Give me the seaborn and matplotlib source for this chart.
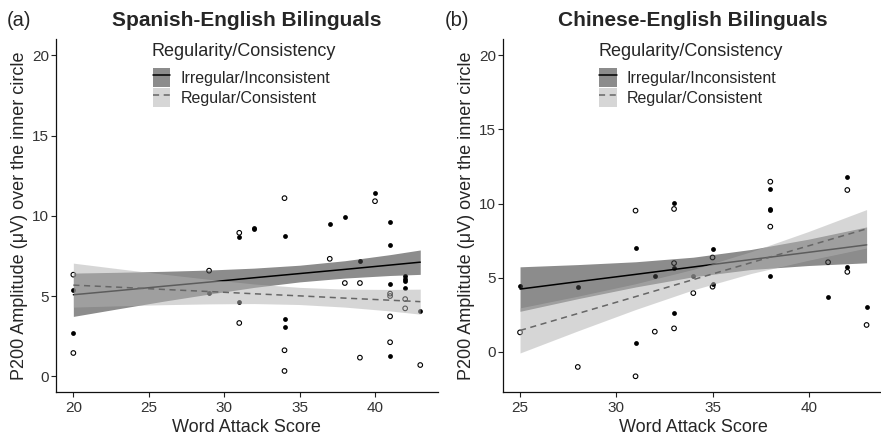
import matplotlib
matplotlib.use("Agg")
import matplotlib.pyplot as plt
import seaborn as sns
from matplotlib.patches import Patch
from matplotlib.lines import Line2D

# ---- Spanish-English bilinguals: individual P200 amplitudes ----
sp_irr_score = [20, 20, 29, 31, 31, 32, 32, 34, 34, 34, 37, 38, 39, 40,
                41, 41, 41, 41, 42, 42, 42, 42, 43]
sp_irr_amp = [5.40, 2.72, 5.18, 8.67, 4.62, 9.23, 9.15, 8.75, 3.59, 3.07,
              9.50, 9.94, 7.20, 11.41, 9.60, 8.15, 5.72, 1.26, 6.24, 6.08,
              5.93, 5.50, 4.09]
sp_reg_score = [20, 20, 29, 31, 31, 34, 34, 34, 37, 38, 39, 39, 40,
                41, 41, 41, 41, 42, 42, 43]
sp_reg_amp = [6.33, 1.45, 6.58, 8.94, 3.32, 11.10, 1.62, 0.33, 7.32, 5.81,
              5.81, 1.16, 10.91, 5.15, 5.00, 3.73, 2.12, 4.81, 4.23, 0.70]

# model estimates with 95% confidence limits
sp_fit_score = [20, 23, 26, 29, 32, 35, 38, 41, 43]
sp_irr_fit = [5.08, 5.34, 5.61, 5.87, 6.14, 6.40, 6.66, 6.93, 7.11]
sp_irr_lo = [3.73, 4.21, 4.68, 5.12, 5.54, 5.88, 6.12, 6.28, 6.35]
sp_irr_hi = [6.43, 6.48, 6.54, 6.62, 6.74, 6.92, 7.20, 7.58, 7.87]
sp_reg_fit = [5.68, 5.55, 5.41, 5.28, 5.14, 5.01, 4.87, 4.74, 4.65]
sp_reg_lo = [4.31, 4.39, 4.46, 4.51, 4.53, 4.47, 4.31, 4.07, 3.87]
sp_reg_hi = [7.05, 6.70, 6.36, 6.04, 5.75, 5.54, 5.43, 5.41, 5.43]

# ---- Chinese-English bilinguals: individual P200 amplitudes ----
ch_irr_score = [25, 28, 31, 31, 32, 33, 33, 33, 34, 35, 35, 38, 38, 38, 38,
                41, 42, 42, 43]
ch_irr_amp = [4.46, 4.35, 7.04, 0.60, 5.13, 10.02, 5.65, 2.62, 5.11, 6.93,
              4.60, 10.97, 9.62, 9.55, 5.13, 3.72, 11.77, 5.76, 3.00]
ch_reg_score = [25, 28, 31, 31, 32, 33, 33, 33, 34, 35, 35, 38, 38, 41, 42,
                42, 43]
ch_reg_amp = [1.32, -1.01, 9.53, -1.64, 1.37, 9.64, 5.99, 1.59, 3.97, 6.37,
              4.40, 11.48, 8.45, 6.05, 10.92, 5.40, 1.82]

ch_fit_score = [25, 28, 31, 34, 37, 40, 43]
ch_irr_fit = [4.24, 4.74, 5.23, 5.73, 6.23, 6.72, 7.22]
ch_irr_lo = [2.74, 3.59, 4.38, 5.07, 5.56, 5.83, 6.01]
ch_irr_hi = [5.74, 5.89, 6.08, 6.39, 6.91, 7.61, 8.43]
ch_reg_fit = [1.45, 2.59, 3.73, 4.88, 6.02, 7.16, 8.30]
ch_reg_lo = [-0.07, 1.42, 2.86, 4.19, 5.29, 6.19, 7.01]
ch_reg_hi = [2.97, 3.76, 4.60, 5.57, 6.76, 8.13, 9.60]

conditions = ["Irregular/Inconsistent", "Regular/Consistent"]
legend_title = "Regularity/Consistency"
panel_titles = ["Spanish-English Bilinguals", "Chinese-English Bilinguals"]
panel_tags = ["(a)", "(b)"]
x_label = "Word Attack Score"
y_label = "P200 Amplitude (\u03bcV) over the inner circle"
x_ticks = [[20, 25, 30, 35, 40], [25, 30, 35, 40]]
y_ticks = [0, 5, 10, 15, 20]

# ---- styling ----
sns.set_style("ticks")
plt.rcParams["font.family"] = ["Liberation Sans", "DejaVu Sans"]

IRR_FILL, IRR_ALPHA = "#3f3f3f", 0.6
REG_FILL, REG_ALPHA = "#b2b2b2", 0.52
REG_LINE = "#666666"
DASH = (4, 3)

fig = plt.figure(figsize=(8.81, 4.40), dpi=100)
ax_sp = fig.add_axes([56 / 881, 0.1084, 381.6 / 881, 0.8023])
ax_ch = fig.add_axes([502.7 / 881, 0.1084, 381.2 / 881, 0.8023])

panels = [
    (ax_sp, sp_irr_score, sp_irr_amp, sp_reg_score, sp_reg_amp,
     sp_fit_score, sp_irr_fit, sp_irr_lo, sp_irr_hi,
     sp_reg_fit, sp_reg_lo, sp_reg_hi, (18.85, 44.15), (-1.0, 21.0)),
    (ax_ch, ch_irr_score, ch_irr_amp, ch_reg_score, ch_reg_amp,
     ch_fit_score, ch_irr_fit, ch_irr_lo, ch_irr_hi,
     ch_reg_fit, ch_reg_lo, ch_reg_hi, (24.1, 43.9), (-2.72, 21.08)),
]

for i, (ax, irr_x, irr_y, reg_x, reg_y, fx, ifit, ilo, ihi,
        rfit, rlo, rhi, xlim, ylim) in enumerate(panels):
    # individual participants: open = regular, filled = irregular
    sns.scatterplot(x=reg_x, y=reg_y, ax=ax, marker="o", s=11,
                    facecolor="none", edgecolor="black", linewidth=0.8,
                    zorder=1.0)
    sns.scatterplot(x=irr_x, y=irr_y, ax=ax, marker="o", s=12,
                    color="black", linewidth=0, zorder=1.05)

    # confidence ribbons and fitted lines
    ax.fill_between(fx, ilo, ihi, facecolor=IRR_FILL, alpha=IRR_ALPHA,
                    linewidth=0, zorder=1.5)
    sns.lineplot(x=fx, y=ifit, ax=ax, color="black", linewidth=1.1,
                 errorbar=None, zorder=1.6)
    ax.fill_between(fx, rlo, rhi, facecolor=REG_FILL, alpha=REG_ALPHA,
                    linewidth=0, zorder=1.7)
    sns.lineplot(x=fx, y=rfit, ax=ax, color=REG_LINE, linewidth=1.1,
                 errorbar=None, zorder=1.8)
    ax.lines[-1].set_dashes(DASH)

    ax.set_xlim(*xlim)
    ax.set_ylim(*ylim)
    ax.set_xticks(x_ticks[i])
    ax.set_yticks(y_ticks)
    ax.set_xlabel(x_label, fontsize=13, labelpad=3)
    ax.set_ylabel(y_label, fontsize=13, labelpad=3)
    ax.tick_params(axis="both", labelsize=11, length=3.8, width=0.8,
                   color="#222222", labelcolor="#333333")
    ax.tick_params(axis="x", pad=2.5)
    ax.tick_params(axis="y", pad=1)
    for side in ("left", "bottom"):
        ax.spines[side].set_linewidth(0.9)
        ax.spines[side].set_color("#111111")
    sns.despine(ax=ax)
    ax.set_title(panel_titles[i], fontsize=15, fontweight="bold", pad=9.6)

    # legend: title as its own text, keys stacked beneath it
    ax.text(0.2508, 0.9513, legend_title, transform=ax.transAxes,
            fontsize=13, ha="left", va="baseline")
    handles = [
        (Patch(facecolor=IRR_FILL, alpha=IRR_ALPHA, edgecolor="none"),
         Line2D([], [], color="black", linewidth=1.1)),
        (Patch(facecolor=REG_FILL, alpha=REG_ALPHA, edgecolor="none"),
         Line2D([], [], color=REG_LINE, linewidth=1.1, dashes=DASH)),
    ]
    ax.legend(handles, conditions, loc="upper left",
              bbox_to_anchor=(0.2534, 0.9187), frameon=False, fontsize=11.5,
              handlelength=1.08, handleheight=1.42,
              handletextpad=0.65, labelspacing=0.08, borderpad=0,
              borderaxespad=0)

fig.text(6.5 / 881, 1 - 26.5 / 440, panel_tags[0], fontsize=14.5,
         va="baseline", ha="left")
fig.text(445 / 881, 1 - 26.5 / 440, panel_tags[1], fontsize=14.5,
         va="baseline", ha="left")

fig.savefig("out.png", dpi=100)
